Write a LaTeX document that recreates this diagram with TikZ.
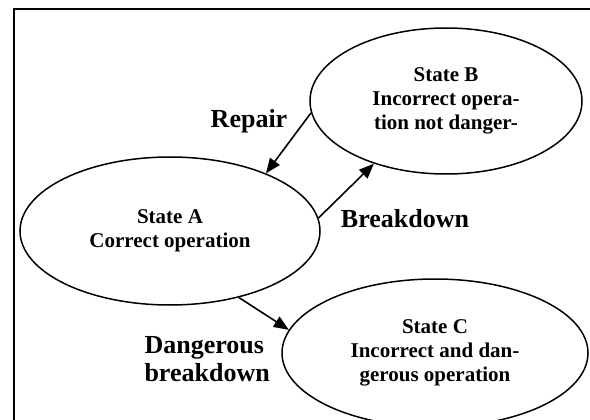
\documentclass[tikz,border=0pt]{standalone}
\usepackage{fontspec}
\setmainfont{Liberation Serif}
\usetikzlibrary{shapes.geometric, arrows.meta}

\begin{document}
\begin{tikzpicture}[x=1pt, y=-1pt,
	state/.style={draw, ellipse, line width=1.5pt, inner sep=0pt, align=center,
		font=\fontsize{21}{24}\selectfont\bfseries},
	lbl/.style={align=left, font=\fontsize{26}{28}\selectfont\bfseries},
	arr/.style={line width=1.6pt, -{Triangle[length=15pt, width=12pt]}}]
	\useasboundingbox (0,0) rectangle (590,420);
%	frame, open at right and bottom
	\draw[line width=2.5pt] (14,425) -- (14,9) -- (595,9);

	\node[state, minimum width=300pt, minimum height=148pt] (stA) at (170,231)
		{State A\\Correct operation};
	\node[state, minimum width=272pt, minimum height=146pt] (stB) at (446,101)
		{State B\\Incorrect opera-\\tion not danger-};
	\node[state, minimum width=306pt, minimum height=148pt] (stC) at (435,353)
		{State C\\Incorrect and dan-\\gerous operation};

	\node[lbl, anchor=base] (repair) at (249,128) {Repair};
	\node[lbl, anchor=base] (brk) at (405,227) {Breakdown};
	\node[lbl, anchor=west] (dng) at (141,359) {Dangerous\\breakdown};

	\draw[arr] (stB.185.1) -- (stA.31.6);
	\draw[arr] (stA.5.7) -- (stB.221);
	\draw[arr] (stA.-44.2) -- (stC.171);
\end{tikzpicture}
\end{document}
